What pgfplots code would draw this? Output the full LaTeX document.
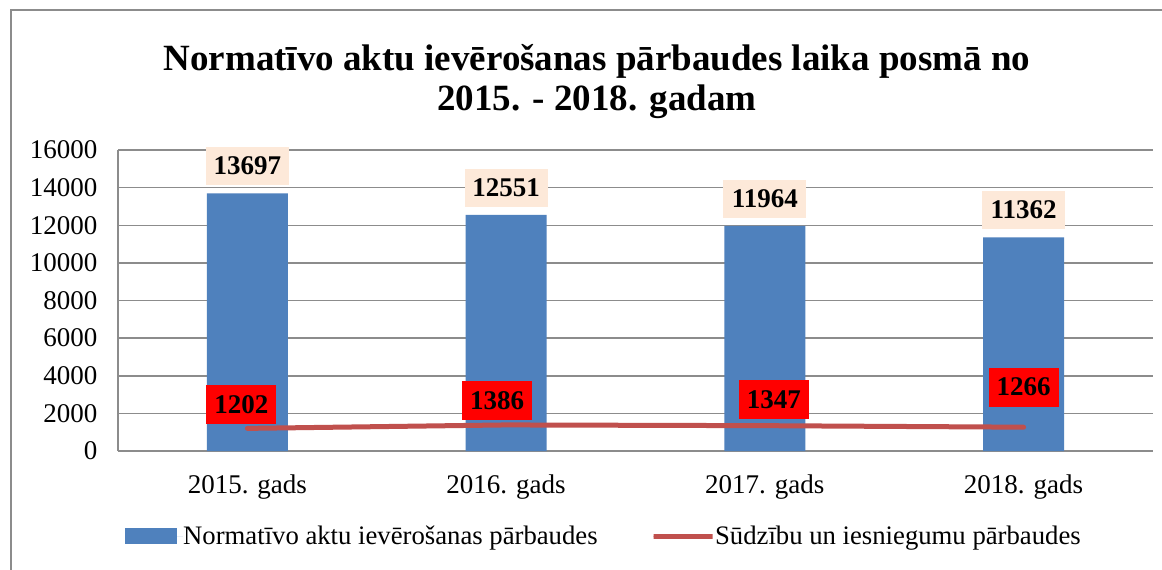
\documentclass[border=0pt]{standalone}
\usepackage{fontspec}
\setmainfont{Liberation Serif}
\usepackage{pgfplots}
\usepackage{pgfplotstable}
\pgfplotsset{compat=1.18}
\definecolor{barblue}{HTML}{4F81BD}
\definecolor{linered}{HTML}{C0504D}
\definecolor{peach}{HTML}{FDE9D9}
\definecolor{gridgray}{RGB}{140,140,140}
\definecolor{framegray}{RGB}{140,140,140}

\pgfplotstableread{
x y lab
0 13697 13697
1 12551 12551
2 11964 11964
3 11362 11362
}\bars
\pgfplotstableread{
x y lab dx dy
0 1202 1202 -6 1.4
1 1386 1386 -9 2
2 1347 1347 9 3.7
3 1266 1266 0 18
}\lines

\begin{document}
\begin{tikzpicture}
\path[use as bounding box, fill=white] (0pt,0pt) rectangle (1162pt,-570pt);
\draw[framegray, line width=2pt] (11pt,-580pt) -- (11pt,-10pt) -- (1175pt,-10pt);
\node[anchor=base, align=center, inner sep=0pt, font=\fontsize{37}{40}\selectfont\bfseries] at (597pt,-110pt) {Normatīvo aktu ievērošanas pārbaudes laika posmā no\\2015. - 2018. gadam};
\begin{axis}[
  at={(118pt,-451pt)}, anchor=south west,
  scale only axis, width=1035pt, height=301pt,
  xmin=-0.5, xmax=3.5, ymin=0, ymax=16000,
  xtick={0,1,2,3},
  xticklabels={2015. gads,2016. gads,2017. gads,2018. gads},
  ytick={0,2000,...,16000},
  scaled y ticks=false,
  axis x line*=bottom, axis y line*=left,
  axis line style={draw=gridgray, line width=1.5pt, -},
  major tick length=0pt,
  ymajorgrids, grid style={draw=gridgray, line width=1.5pt},
  tick label style={font=\fontsize{27}{32}\selectfont},
  xticklabel style={yshift=-20pt},
  yticklabel style={xshift=-17pt},
  /pgf/number format/1000 sep={}, /pgf/number format/assume math mode=true,
  clip=false,
  legend style={at={(axis description cs:0.00676,-0.2824)}, anchor=west, draw=none, fill=none, inner sep=0pt,
    nodes={inner sep=0pt, font=\fontsize{26.7}{31}\selectfont},
    /tikz/every even column/.append style={column sep=53.5pt}},
  legend columns=2, legend cell align=left,
]
\addplot[ybar, bar width=81pt, fill=barblue, draw=none,
  point meta=explicit symbolic, nodes near coords,
  every node near coord/.append style={anchor=south, yshift=8pt, fill=peach, text=black,
    font=\fontsize{27}{32}\selectfont\bfseries, inner sep=0pt, minimum width=83pt, minimum height=38pt},
  legend image code/.code={\fill[barblue] (0pt,-8pt) rectangle (52pt,8pt); \path (0pt,0pt) rectangle (58pt,0pt);}
  ] table[x=x, y=y, meta=lab] {\bars};
\addlegendentry{Normatīvo aktu ievērošanas pārbaudes}
\addplot[linered, line width=5pt, line cap=round, sharp plot, mark=none,
  point meta=explicit symbolic, nodes near coords,
  visualization depends on={\thisrow{dx} \as \dx},
  visualization depends on={\thisrow{dy} \as \dy},
  every node near coord/.append style={anchor=south, xshift=\dx pt, yshift=\dy pt, fill=red, text=black,
    font=\fontsize{27}{32}\selectfont\bfseries, inner sep=0pt, minimum width=70pt, minimum height=39pt},
  legend image code/.code={\draw[linered, line width=5pt, line cap=round] (2.5pt,0pt) -- (53.5pt,0pt); \path (0pt,0pt) rectangle (59pt,0pt);}
  ] table[x=x, y=y, meta=lab] {\lines};
\addlegendentry{Sūdzību un iesniegumu pārbaudes}
\end{axis}
\end{tikzpicture}
\end{document}
